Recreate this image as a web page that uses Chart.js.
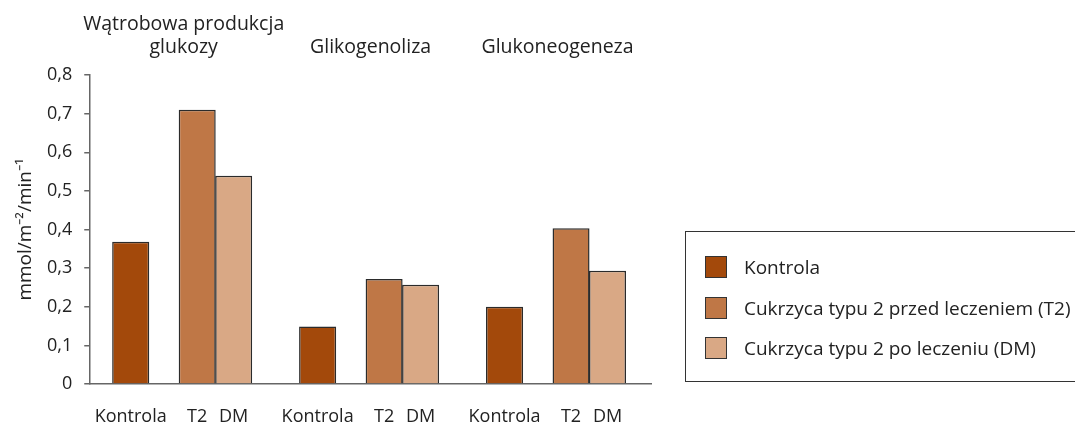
<!DOCTYPE html>
<html>
<head>
<meta charset="utf-8">
<script src="https://cdn.jsdelivr.net/npm/chart.js@4.4.1/dist/chart.umd.min.js"></script>
<style>
  body { margin: 0; background: #fff; }
  #wrap { position: relative; width: 1075px; height: 427px; }
  #legend {
    position: absolute; left: 685px; top: 231px; width: 420px; height: 151px;
    border: 1px solid #333; border-right: none; box-sizing: border-box;
    font: 19px "Open Sans", sans-serif; color: #222; padding-top: 15px;
  }
  #legend .row { display: flex; align-items: center; height: 40.5px; padding-left: 19px; }
  #legend .box { width: 20px; height: 20px; border: 1.5px solid #333; margin-right: 17px; }
</style>
</head>
<body>
<div id="wrap">
  <canvas id="chart"></canvas>
  <div id="legend"></div>
</div>
<script>
const groupTitles = [['Wątrobowa produkcja', 'glukozy'], 'Glikogenoliza', 'Glukoneogeneza'];
const seriesNames = ['Kontrola', 'Cukrzyca typu 2 przed leczeniem (T2)', 'Cukrzyca typu 2 po leczeniu (DM)'];
const shortNames = ['Kontrola', 'T2', 'DM'];
const kontrola = [0.368, 0.149, 0.2];
const t2 = [0.71, 0.272, 0.403];
const dm = [0.539, 0.257, 0.293];
const colors = ['#a3490b', '#bf7746', '#d9a885'];

const font = '"Open Sans", sans-serif';
const textColor = '#222';
const axisColor = '#666';

const fmt = v => (v === 0 ? '0' : v.toFixed(1).replace('.', ','));

// draws Kontrola / T2 / DM under each bar
const barLabels = {
  id: 'barLabels',
  afterDatasetsDraw(chart) {
    const { ctx, chartArea } = chart;
    ctx.save();
    ctx.font = '18px ' + font;
    ctx.fillStyle = textColor;
    ctx.textAlign = 'center';
    ctx.textBaseline = 'middle';
    chart.data.datasets.forEach((ds, i) => {
      if (!ds.short) return;
      chart.getDatasetMeta(i).data.forEach(bar => {
        ctx.fillText(ds.short, bar.x, chartArea.bottom + 33);
      });
    });
    ctx.restore();
  }
};

const ctx = document.getElementById('chart').getContext('2d');
const chart = new Chart(ctx, {
  type: 'bar',
  data: {
    labels: groupTitles.map(t => Array.isArray(t) ? t.join(' ') : t),
    datasets: [
      { label: seriesNames[0], short: shortNames[0], data: kontrola, backgroundColor: colors[0],
        categoryPercentage: 0.756, barPercentage: 1.05 },
      { label: '', data: [null, null, null] },
      { label: seriesNames[1], short: shortNames[1], data: t2, backgroundColor: colors[1],
        categoryPercentage: 0.578, barPercentage: 1.37 },
      { label: seriesNames[2], short: shortNames[2], data: dm, backgroundColor: colors[2],
        categoryPercentage: 0.713, barPercentage: 1.11 },
    ],
  },
  options: {
    responsive: true,
    maintainAspectRatio: false,
    animation: false,
    layout: { padding: { left: 12, top: -3, right: 424, bottom: 43 } },
    datasets: {
      bar: { borderColor: '#2b2b2b', borderWidth: 1.5 }
    },
    plugins: {
      legend: { display: false },
      tooltip: { enabled: false },
    },
    scales: {
      x: {
        grid: { display: false, drawTicks: false },
        border: { color: axisColor, width: 1.5 },
        ticks: { display: false },
      },
      x2: {
        type: 'category',
        position: 'top',
        labels: groupTitles,
        offset: true,
        grid: { display: false, drawTicks: false },
        border: { display: false },
        ticks: { color: textColor, font: { family: font, size: 19.5, lineHeight: 1.18 }, padding: 16,
          maxRotation: 0, autoSkip: false },
      },
      y: {
        min: 0,
        max: 0.8,
        grid: { drawOnChartArea: false, drawTicks: true, tickLength: 6, color: axisColor, lineWidth: 1.5 },
        border: { color: axisColor, width: 1.5 },
        ticks: { stepSize: 0.1, padding: 12, color: textColor, font: { family: font, size: 18 },
          callback: v => fmt(v) },
        title: { display: true, text: 'mmol/m⁻²/min⁻¹', color: textColor,
          font: { family: font, size: 19, lineHeight: 1 }, padding: { top: 4, bottom: 0 } },
      },
    },
  },
  plugins: [barLabels],
});

// legend box on the right
const legend = document.getElementById('legend');
seriesNames.forEach((name, i) => {
  const row = document.createElement('div');
  row.className = 'row';
  const box = document.createElement('span');
  box.className = 'box';
  box.style.background = colors[i];
  const txt = document.createElement('span');
  txt.textContent = name;
  row.appendChild(box);
  row.appendChild(txt);
  legend.appendChild(row);
});
</script>
</body>
</html>
